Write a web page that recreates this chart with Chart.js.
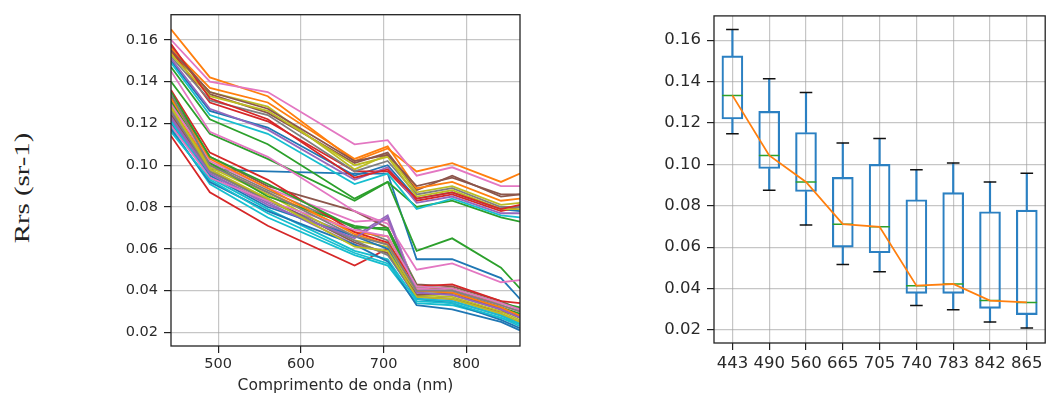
<!DOCTYPE html>
<html>
<head>
<meta charset="utf-8">
<script src="https://cdn.jsdelivr.net/npm/chart.js@4.4.1/dist/chart.umd.min.js"></script>
<style>
  html, body { margin: 0; padding: 0; background: #fff; }
  body { width: 1057px; height: 401px; position: relative; overflow: hidden; }
  #spectraChart { position: absolute; left: 0; top: 0; }
  #boxChart { position: absolute; left: 560px; top: 0; }
  #rrsLabel {
    position: absolute; left: 22px; top: 188px;
    transform: translate(-50%, -50%) rotate(-90deg) scaleX(1.37);
    font-family: 'Liberation Serif', 'Times New Roman', serif;
    font-size: 21px; color: #222; white-space: nowrap;
  }
</style>
</head>
<body>
<div id="rrsLabel">Rrs (sr-1)</div>
<canvas id="spectraChart" width="540" height="401"></canvas>
<canvas id="boxChart" width="497" height="401"></canvas>
<script>
// Sentinel-2 band centres (nm)
const wavelengths = [443, 490, 560, 665, 705, 740, 783, 842, 865];
const bandLabels = ['443', '490', '560', '665', '705', '740', '783', '842', '865'];

// One Rrs spectrum per sample point, values at each band
const spectra = [
  [0.121, 0.098, 0.097, 0.096, 0.096, 0.055, 0.055, 0.046, 0.036],
  [0.165, 0.142, 0.133, 0.102, 0.108, 0.097, 0.101, 0.092, 0.096],
  [0.140, 0.115, 0.103, 0.083, 0.092, 0.059, 0.065, 0.051, 0.041],
  [0.114, 0.087, 0.071, 0.052, 0.060, 0.037, 0.036, 0.030, 0.028],
  [0.125, 0.098, 0.083, 0.066, 0.076, 0.040, 0.040, 0.032, 0.028],
  [0.157, 0.134, 0.125, 0.101, 0.106, 0.088, 0.095, 0.085, 0.086],
  [0.160, 0.140, 0.135, 0.110, 0.112, 0.095, 0.099, 0.090, 0.090],
  [0.130, 0.101, 0.088, 0.070, 0.064, 0.039, 0.038, 0.031, 0.027],
  [0.154, 0.135, 0.128, 0.098, 0.105, 0.087, 0.090, 0.081, 0.082],
  [0.118, 0.091, 0.075, 0.057, 0.052, 0.034, 0.033, 0.027, 0.023],
  [0.150, 0.126, 0.118, 0.095, 0.100, 0.084, 0.087, 0.079, 0.078],
  [0.128, 0.100, 0.087, 0.068, 0.066, 0.041, 0.041, 0.033, 0.030],
  [0.147, 0.122, 0.110, 0.084, 0.092, 0.080, 0.083, 0.075, 0.073],
  [0.155, 0.130, 0.121, 0.097, 0.097, 0.083, 0.086, 0.078, 0.080],
  [0.122, 0.096, 0.082, 0.062, 0.058, 0.036, 0.035, 0.028, 0.025],
  [0.133, 0.104, 0.090, 0.078, 0.070, 0.043, 0.042, 0.035, 0.031],
  [0.145, 0.116, 0.104, 0.078, 0.072, 0.050, 0.053, 0.044, 0.045],
  [0.152, 0.131, 0.124, 0.097, 0.102, 0.086, 0.089, 0.080, 0.080],
  [0.127, 0.099, 0.086, 0.064, 0.061, 0.038, 0.037, 0.030, 0.026],
  [0.149, 0.124, 0.115, 0.091, 0.096, 0.079, 0.084, 0.076, 0.075],
  [0.120, 0.095, 0.080, 0.066, 0.060, 0.036, 0.034, 0.026, 0.022],
  [0.156, 0.137, 0.130, 0.103, 0.109, 0.089, 0.092, 0.083, 0.084],
  [0.131, 0.101, 0.085, 0.071, 0.069, 0.040, 0.039, 0.032, 0.029],
  [0.136, 0.106, 0.093, 0.068, 0.063, 0.042, 0.043, 0.035, 0.034],
  [0.151, 0.127, 0.117, 0.093, 0.099, 0.082, 0.085, 0.077, 0.077],
  [0.124, 0.097, 0.084, 0.063, 0.058, 0.038, 0.039, 0.031, 0.027],
  [0.129, 0.102, 0.089, 0.073, 0.074, 0.041, 0.040, 0.033, 0.030],
  [0.126, 0.097, 0.083, 0.064, 0.057, 0.037, 0.036, 0.029, 0.025],
  [0.153, 0.133, 0.126, 0.100, 0.104, 0.085, 0.088, 0.079, 0.079],
  [0.121, 0.094, 0.079, 0.059, 0.055, 0.035, 0.034, 0.027, 0.024],
  [0.117, 0.092, 0.078, 0.062, 0.054, 0.033, 0.031, 0.025, 0.021],
  [0.132, 0.103, 0.089, 0.067, 0.062, 0.040, 0.039, 0.032, 0.028],
  [0.135, 0.104, 0.091, 0.070, 0.070, 0.042, 0.041, 0.034, 0.032],
  [0.158, 0.132, 0.122, 0.094, 0.098, 0.084, 0.087, 0.079, 0.081],
  [0.123, 0.096, 0.081, 0.065, 0.075, 0.039, 0.038, 0.031, 0.027],
  [0.155, 0.135, 0.127, 0.102, 0.105, 0.090, 0.094, 0.086, 0.086],
  [0.119, 0.094, 0.083, 0.069, 0.066, 0.042, 0.041, 0.034, 0.031],
  [0.134, 0.100, 0.087, 0.066, 0.062, 0.040, 0.040, 0.033, 0.030],
  [0.128, 0.098, 0.084, 0.061, 0.059, 0.037, 0.036, 0.029, 0.025],
  [0.116, 0.093, 0.077, 0.058, 0.053, 0.036, 0.035, 0.028, 0.024]
];

// Box statistics per band
const boxLow    = [0.1148, 0.0875, 0.0707, 0.0516, 0.0481, 0.0318, 0.0298, 0.0238, 0.0210];
const boxQ1     = [0.1219, 0.0980, 0.0869, 0.0600, 0.0573, 0.0377, 0.0377, 0.0304, 0.0274];
const boxMedian = [0.1333, 0.1043, 0.0915, 0.0711, 0.0698, 0.0414, 0.0422, 0.0342, 0.0333];
const boxQ3     = [0.1524, 0.1256, 0.1154, 0.0937, 0.1000, 0.0829, 0.0863, 0.0771, 0.0779];
const boxHigh   = [0.1651, 0.1413, 0.1347, 0.1103, 0.1125, 0.0974, 0.1006, 0.0915, 0.0957];

const spectraTicksX = [500, 600, 700, 800];
const rrsTicks = [0.02, 0.04, 0.06, 0.08, 0.10, 0.12, 0.14, 0.16];

const tab10 = ['#1f77b4', '#ff7f0e', '#2ca02c', '#d62728', '#9467bd',
               '#8c564b', '#e377c2', '#7f7f7f', '#bcbd22', '#17becf'];

const gridStyle = { color: 'rgba(160,160,160,0.6)', lineWidth: 1.2, tickColor: '#222', tickWidth: 1.2, tickLength: 7 };
const textColor = '#2a2a2a';

// full axes box around the plot area
const framePlugin = {
  id: 'frame',
  afterDraw(chart) {
    const { ctx, chartArea: a } = chart;
    ctx.save();
    ctx.strokeStyle = '#222';
    ctx.lineWidth = 1.3;
    ctx.strokeRect(a.left, a.top, a.right - a.left, a.bottom - a.top);
    ctx.restore();
  }
};

Chart.defaults.font.family = "'DejaVu Sans', sans-serif";

// Left: all spectra
new Chart(document.getElementById('spectraChart'), {
  type: 'line',
  data: {
    datasets: spectra.map((row, i) => ({
      data: row.map((v, j) => ({ x: wavelengths[j], y: v })),
      borderColor: tab10[i % 10],
      borderWidth: 1.8,
      pointRadius: 0,
      tension: 0,
      order: -i
    }))
  },
  options: {
    responsive: false,
    animation: false,
    events: [],
    layout: { padding: { left: 0, top: 6, right: 20, bottom: 0 } },
    plugins: { legend: { display: false }, tooltip: { enabled: false } },
    scales: {
      x: {
        type: 'linear', min: 443, max: 865,
        afterBuildTicks: s => { s.ticks = spectraTicksX.map(v => ({ value: v })); },
        afterFit: s => { s.height = 55; },
        ticks: { font: { size: 14.5 }, color: textColor, padding: 3, maxRotation: 0 },
        grid: gridStyle,
        border: { display: false },
        title: { display: true, text: 'Comprimento de onda (nm)', font: { size: 15.5 }, color: textColor, padding: { top: 2, bottom: 6 } }
      },
      y: {
        type: 'linear', min: 0.0135, max: 0.172,
        afterBuildTicks: s => { s.ticks = rrsTicks.map(v => ({ value: v })); },
        afterFit: s => { s.width = 171; },
        ticks: { font: { size: 14.5 }, color: textColor, padding: 6, callback: v => v.toFixed(2) },
        grid: gridStyle,
        border: { display: false }
      }
    }
  },
  plugins: [framePlugin]
});

// Right: box plot per band with the median trend
const boxBlue = '#2b80c2';
new Chart(document.getElementById('boxChart'), {
  data: {
    labels: bandLabels,
    datasets: [
      {
        type: 'line', data: boxMedian, borderColor: '#ff7f0e', borderWidth: 1.8,
        pointRadius: 0, tension: 0, order: 0
      },
      {
        type: 'line', data: boxMedian, showLine: false, pointStyle: 'line',
        pointRadius: 10.3, pointBorderColor: '#2ca02c', pointBorderWidth: 1.5, order: 1
      },
      {
        type: 'line', data: boxHigh, showLine: false, pointStyle: 'line',
        pointRadius: 6.3, pointBorderColor: '#111', pointBorderWidth: 1.5, order: 2
      },
      {
        type: 'line', data: boxLow, showLine: false, pointStyle: 'line',
        pointRadius: 6.3, pointBorderColor: '#111', pointBorderWidth: 1.5, order: 2
      },
      {
        type: 'bar', data: bandLabels.map((_, i) => [boxQ1[i], boxQ3[i]]),
        backgroundColor: 'rgba(0,0,0,0)', borderColor: boxBlue, borderWidth: 1.5,
        borderSkipped: false, barThickness: 21, grouped: false, order: 3
      },
      {
        type: 'bar', data: bandLabels.map((_, i) => [boxQ3[i], boxHigh[i]]),
        backgroundColor: boxBlue, borderWidth: 0, barThickness: 1.5, grouped: false, order: 4
      },
      {
        type: 'bar', data: bandLabels.map((_, i) => [boxLow[i], boxQ1[i]]),
        backgroundColor: boxBlue, borderWidth: 0, barThickness: 1.5, grouped: false, order: 4
      }
    ]
  },
  options: {
    responsive: false,
    animation: false,
    events: [],
    layout: { padding: { left: 0, top: 10, right: 1, bottom: 0 } },
    plugins: { legend: { display: false }, tooltip: { enabled: false } },
    scales: {
      x: {
        type: 'category', offset: true,
        afterFit: s => { s.height = 58; },
        ticks: { font: { size: 16.5 }, color: textColor, padding: 4, maxRotation: 0, autoSkip: false },
        grid: Object.assign({ offset: false }, gridStyle),
        border: { display: false }
      },
      y: {
        type: 'linear', min: 0.0137, max: 0.1717,
        afterBuildTicks: s => { s.ticks = rrsTicks.map(v => ({ value: v })); },
        afterFit: s => { s.width = 154; },
        ticks: { font: { size: 16.5 }, color: textColor, padding: 6, callback: v => v.toFixed(2) },
        grid: gridStyle,
        border: { display: false }
      }
    }
  },
  plugins: [framePlugin]
});
</script>
</body>
</html>
